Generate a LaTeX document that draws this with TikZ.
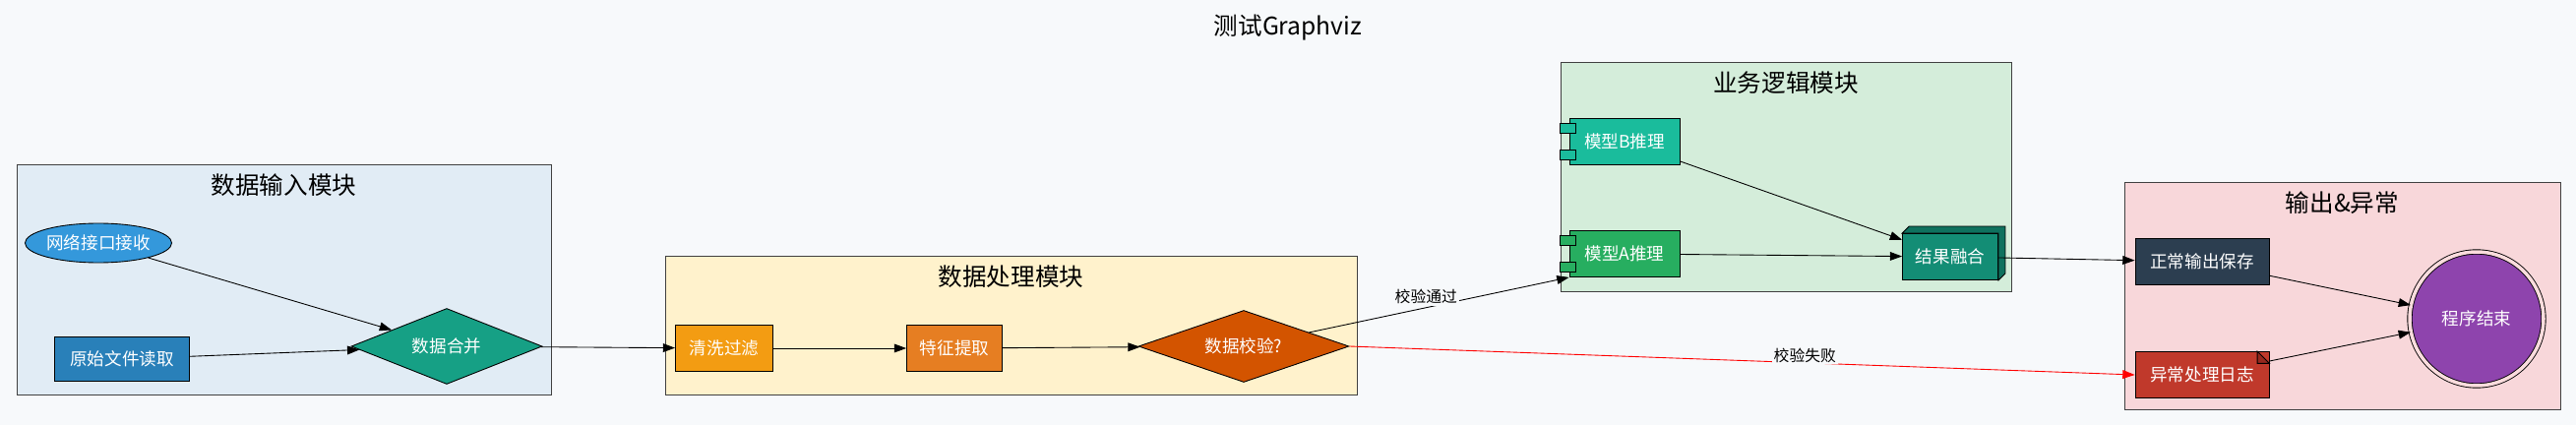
\documentclass[tikz,border=0pt]{standalone}
\usepackage{fontspec}
\setmainfont{Noto Sans CJK SC}
\usetikzlibrary{positioning, shapes.geometric, arrows.meta}
\definecolor{bgc}{HTML}{F7F9FB}
\tikzset{
  every cluster/.style={draw=black!75, line width=0.5pt},
  every block/.style={draw=black, line width=0.5pt, text=white, font=\fontsize{10}{11}\selectfont,
    minimum height=0.94cm, inner sep=0pt},
  every title/.style={font=\fontsize{14}{15}\selectfont},
  flow/.style={-{Triangle[length=7pt, width=5pt]}, line width=0.5pt},
  lbl/.style={font=\fontsize{9}{10}\selectfont, fill=bgc, inner sep=1pt}
}
\begin{document}
\begin{tikzpicture}[x=0.02cm, y=-0.02cm]
		\fill [bgc] (0,0) rectangle (2618,432);
		\useasboundingbox (0,0) rectangle (2618,432);
		\node [every title] (title) at (1309,28) {测试Graphviz};

		% clusters
		\foreach \x/\y/\X/\Y/\c/\t [count=\i] in {
			17/167/560/401/E1ECF5/数据输入模块,
			676/260/1379/401/FFF2CC/数据处理模块,
			1586/63/2044/296/D4EDDA/业务逻辑模块,
			2159/185/2602/416/F8D7DA/输出\&异常} {
			\definecolor{cl\i}{HTML}{\c}
			\draw [every cluster, fill=cl\i] (\x,\y) rectangle (\X,\Y);
			\node [every title] (c-\i) at ({(\x+\X)/2},{\y+21}) {\t};
		};

		% input
		\node [every block, ellipse, fill={rgb,255:red,52;green,152;blue,219}, minimum width=2.94cm, minimum height=0.8cm]
			(net) at (100,247) {网络接口接收};
		\node [every block, rectangle, fill={rgb,255:red,41;green,128;blue,185}, minimum width=2.74cm, minimum height=0.9cm]
			(file) at (124,365) {原始文件读取};
		\node [every block, diamond, aspect=2.5, fill={rgb,255:red,22;green,160;blue,133}, minimum width=3.88cm, minimum height=1.54cm]
			(merge) at (454,352) {数据合并};

		% processing
		\node [every block, rectangle, fill={rgb,255:red,243;green,156;blue,18}, minimum width=1.98cm]
			(clean) at (736,354) {清洗过滤};
		\node [every block, rectangle, fill={rgb,255:red,230;green,126;blue,34}, minimum width=1.94cm]
			(feat) at (970,354) {特征提取};
		\node [every block, diamond, aspect=2.9, fill={rgb,255:red,211;green,84;blue,0}, minimum width=4.28cm, minimum height=1.46cm]
			(check) at (1264,352) {数据校验?};

		% business
		\foreach \n/\t/\y/\c in {mb/模型B推理/144/1ABC9C, ma/模型A推理/258/27AE60} {
			\definecolor{col-\n}{HTML}{\c}
			\node [every block, rectangle, fill=col-\n, minimum width=2.24cm] (\n) at (1651,\y) {\t};
			\draw [fill=col-\n, line width=0.5pt] ([xshift=-5pt, yshift=-3pt]\n.north west) rectangle ++(9pt,-6pt);
			\draw [fill=col-\n, line width=0.5pt] ([xshift=-5pt, yshift=9pt]\n.south west) rectangle ++(9pt,-6pt);
		};
		\definecolor{fusec}{HTML}{138D75}
		\node [every block, rectangle, fill=fusec, minimum width=1.94cm] (fuse) at (1982,261) {结果融合};
		\draw [fill=fusec!80!black, line width=0.5pt] (fuse.north west) -- ++(4pt,4pt) -- ([shift={(4pt,4pt)}]fuse.north east)
			-- ([shift={(4pt,4pt)}]fuse.south east) -- (fuse.south east) -- (fuse.north east) -- cycle;

		% output
		\node [every block, rectangle, fill={rgb,255:red,44;green,62;blue,80}, minimum width=2.72cm]
			(save) at (2238,266) {正常输出保存};
		\node [every block, rectangle, fill={rgb,255:red,192;green,57;blue,43}, minimum width=2.72cm]
			(log) at (2238,381) {异常处理日志};
		\draw [fill={rgb,255:red,150;green,40;blue,30}, line width=0.5pt] ([xshift=-7pt]log.north east) -- ([yshift=-7pt]log.north east) -- ([shift={(-7pt,-7pt)}]log.north east) -- cycle;
		\node [every block, circle, fill={rgb,255:red,142;green,68;blue,173}, minimum size=2.72cm, double=bgc!50!pink, double distance=2pt]
			(end) at (2517,324) {程序结束};

		% edges
		\foreach \a/\b in {net/merge, file/merge, merge/clean, clean/feat, feat/check, mb/fuse, ma/fuse, fuse/save, save/end, log/end} {
			\draw [flow] (\a) -- (\b);
		};
		\draw [flow] (check) -- node [lbl, pos=0.45, above=1pt] {校验通过} (ma.south west);
		\draw [flow, red] (check.east) -- node [lbl, pos=0.58, above=-1pt, text=black] {校验失败} (log.west);
	\end{tikzpicture}
\end{document}
